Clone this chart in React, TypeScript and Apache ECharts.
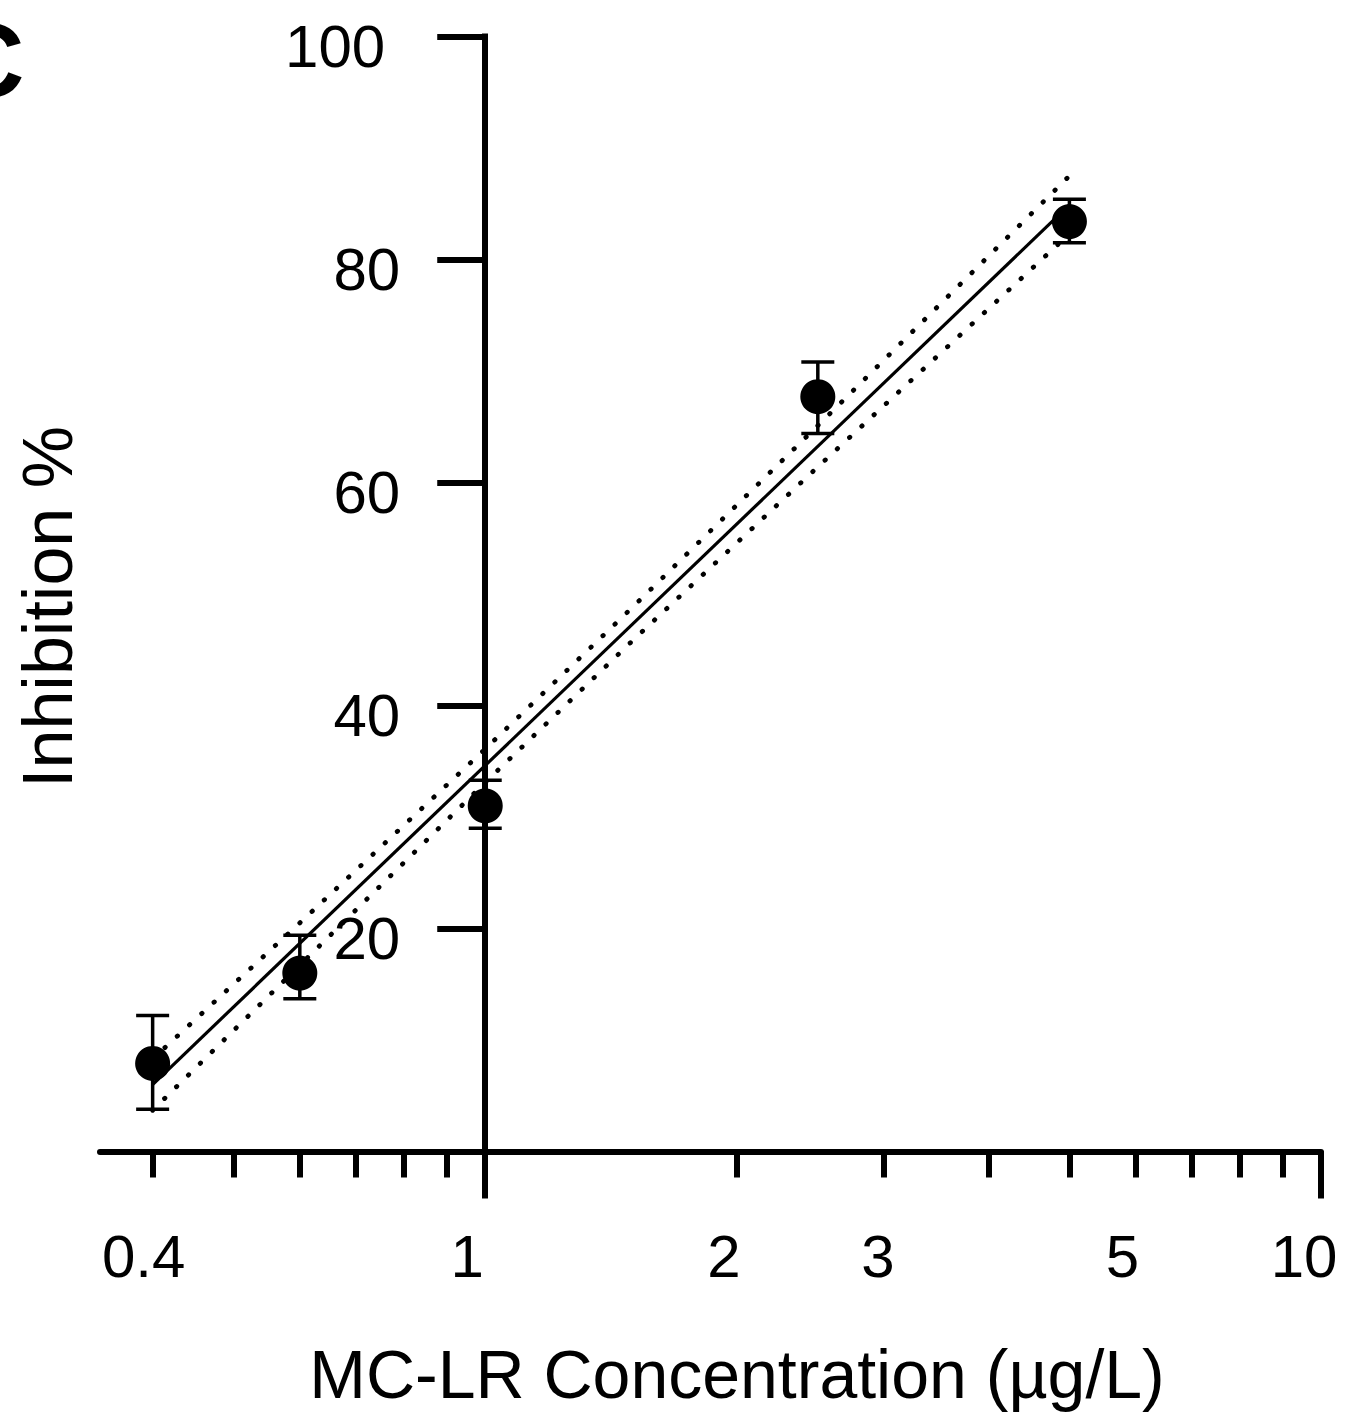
import React, { useEffect, useRef } from 'react';
import * as echarts from 'echarts';

// ---- data ----
const concentrations = [0.4, 0.6, 1, 2.5, 5];
const inhibitionMean = [7.9, 16.0, 31.0, 67.7, 83.4];
const inhibitionLow = [3.8, 13.7, 29.0, 64.4, 81.5];
const inhibitionHigh = [12.2, 19.4, 33.3, 70.8, 85.4];

const fitX = [0.4, 5];
const fitY = [6.0, 84.9];

const bandX = [0.4, 0.6, 1, 1.5, 2.5, 5];
const bandUpper = [8.3, 20.5, 36.1, 48.8, 65.1, 87.5];
const bandLower = [3.7, 16.7, 33.1, 45.8, 61.4, 82.3];

const xAxisMin = 0.346;
const xAxisMax = 10;
const yAxisCrossAt = 1;
const xTickValues = [0.4, 0.5, 0.6, 0.7, 0.8, 0.9, 1, 2, 3, 4, 5, 6, 7, 8, 9, 10];
const xMajorTickValues = [1, 10];
const xTickLabelValues = [0.4, 1, 2, 3, 5, 10];
const xTickLabels = ['0.4', '1', '2', '3', '5', '10'];

const yAxisMin = 0;
const yAxisMax = 100;
const yAxisStep = 20;

const xTitle = 'MC-LR Concentration (µg/L)';
const yTitle = 'Inhibition %';
const panelLetter = 'C';

// ---- style constants ----
const FONT = '"Liberation Sans", Arial, Helvetica, sans-serif';
const xLabelNudge = [-9, -18, -13, -6, 53, -17];
const GRID_LEFT = 100;

const lg = (v: number) => Math.log10(v);

export default function App() {
  const ref = useRef<HTMLDivElement>(null);

  useEffect(() => {
    document.body.style.margin = '0';
    if (!ref.current) return;
    const chart = echarts.init(ref.current, undefined, { renderer: 'svg' });

    const xRich: Record<string, any> = {};
    xLabelNudge.forEach((d, i) => {
      xRich['x' + i] = {
        fontSize: 60,
        fontFamily: FONT,
        color: '#000',
        lineHeight: 60,
        padding: d < 0 ? [0, -2 * d, 0, 0] : [0, 0, 0, 2 * d],
      };
    });

    const yRichBase = { fontSize: 60, fontFamily: FONT, color: '#000', lineHeight: 60 };

    const errData = concentrations.map((c, i) => [lg(c), inhibitionLow[i], inhibitionHigh[i]]);
    const capWidth = 33;

    chart.setOption({
      animation: false,
      backgroundColor: '#ffffff',
      grid: {
        left: GRID_LEFT,
        right: 24,
        top: 36.5,
        bottom: 262.5,
        containLabel: false,
        outerBoundsMode: 'none',
      },
      xAxis: [
        {
          type: 'value',
          min: lg(xAxisMin),
          max: lg(xAxisMax),
          position: 'bottom',
          axisLine: { show: true, onZero: false, lineStyle: { color: '#000', width: 6 } },
          axisTick: {
            show: true,
            length: 26,
            customValues: xTickValues.map(lg),
            lineStyle: { color: '#000', width: 6 },
          },
          axisLabel: {
            show: true,
            margin: 75,
            customValues: xTickLabelValues.map(lg),
            formatter: (v: number) => {
              const i = xTickLabelValues.findIndex((t) => Math.abs(lg(t) - v) < 1e-6);
              if (i < 0) return '';
              return '{x' + i + '|' + xTickLabels[i] + '}';
            },
            rich: xRich,
          },
          splitLine: { show: false },
        },
        {
          type: 'value',
          min: lg(xAxisMin),
          max: lg(xAxisMax),
          position: 'bottom',
          axisLine: { show: false, onZero: false },
          axisTick: {
            show: true,
            length: 47,
            customValues: xMajorTickValues.map(lg),
            lineStyle: { color: '#000', width: 6 },
          },
          axisLabel: { show: false },
          splitLine: { show: false },
        },
      ],
      yAxis: {
        type: 'value',
        min: yAxisMin,
        max: yAxisMax,
        interval: yAxisStep,
        position: 'left',
        offset: 0,
        axisLine: { show: true, onZero: false, lineStyle: { color: '#000', width: 6, cap: 'square' } },
        axisTick: { show: true, length: 48, lineStyle: { color: '#000', width: 6 } },
        axisLabel: {
          show: true,
          margin: 85,
          showMinLabel: false,
          formatter: (v: number) => {
            if (v === 0) return '';
            return v === 100 ? '{w|' + v + '}' : '{n|' + v + '}';
          },
          rich: {
            n: { ...yRichBase, padding: [20, 0, 0, 0] },
            w: { ...yRichBase, padding: [20, 15, 0, 0] },
          },
        },
        splitLine: { show: false },
      },
      series: [
        {
          name: 'upper band',
          type: 'line',
          xAxisIndex: 0,
          data: bandX.map((x, i) => [lg(x), bandUpper[i]]),
          showSymbol: false,
          symbol: 'none',
          smooth: false,
          z: 2,
          lineStyle: { color: '#000', width: 4.8, type: [0.5, 16.2], cap: 'round' },
        },
        {
          name: 'lower band',
          type: 'line',
          xAxisIndex: 0,
          data: bandX.map((x, i) => [lg(x), bandLower[i]]),
          showSymbol: false,
          symbol: 'none',
          smooth: false,
          z: 2,
          lineStyle: { color: '#000', width: 4.8, type: [0.5, 16.2], cap: 'round' },
        },
        {
          name: 'fit',
          type: 'line',
          xAxisIndex: 0,
          data: fitX.map((x, i) => [lg(x), fitY[i]]),
          showSymbol: false,
          symbol: 'none',
          z: 3,
          lineStyle: { color: '#000', width: 3.2 },
        },
        {
          name: 'error',
          type: 'custom',
          xAxisIndex: 0,
          z: 4,
          encode: { x: 0, y: [1, 2] },
          data: errData,
          renderItem: (params: any, api: any) => {
            const x = api.value(0);
            const lo = api.coord([x, api.value(1)]);
            const hi = api.coord([x, api.value(2)]);
            const h = capWidth / 2;
            const style = { stroke: '#000', lineWidth: 3.5 };
            return {
              type: 'group',
              children: [
                { type: 'line', shape: { x1: lo[0], y1: lo[1], x2: hi[0], y2: hi[1] }, style },
                { type: 'line', shape: { x1: hi[0] - h, y1: hi[1], x2: hi[0] + h, y2: hi[1] }, style },
                { type: 'line', shape: { x1: lo[0] - h, y1: lo[1], x2: lo[0] + h, y2: lo[1] }, style },
              ],
            };
          },
        },
        {
          name: 'mean',
          type: 'scatter',
          xAxisIndex: 0,
          z: 5,
          symbol: 'circle',
          symbolSize: 35,
          itemStyle: { color: '#000', opacity: 1 },
          data: concentrations.map((c, i) => [lg(c), inhibitionMean[i]]),
        },
      ],
      graphic: [
        {
          type: 'text',
          x: 24.5,
          y: 60,
          style: {
            text: panelLetter,
            fontSize: 106,
            fontWeight: 'bold',
            fontFamily: FONT,
            fill: '#000',
            align: 'right',
            textAlign: 'right',
            verticalAlign: 'middle',
            textVerticalAlign: 'middle',
          },
        },
        {
          type: 'text',
          x: 737,
          y: 1374,
          style: {
            text: xTitle,
            fontSize: 68,
            fontFamily: FONT,
            fill: '#000',
            align: 'center',
            textAlign: 'center',
            verticalAlign: 'middle',
            textVerticalAlign: 'middle',
          },
        },
        {
          type: 'text',
          x: 48,
          y: 607,
          rotation: Math.PI / 2,
          style: {
            text: yTitle,
            fontSize: 70,
            fontFamily: FONT,
            fill: '#000',
            align: 'center',
            textAlign: 'center',
            verticalAlign: 'middle',
            textVerticalAlign: 'middle',
          },
        },
      ],
    });

    // place the y axis where the x axis reads 1 (log10 = 0), via the library's scale
    const crossPx = chart.convertToPixel({ xAxisIndex: 0 }, lg(yAxisCrossAt)) as number;
    chart.setOption({ yAxis: { offset: GRID_LEFT - crossPx } });

    return () => {
      chart.dispose();
    };
  }, []);

  return (
    <div
      ref={ref}
      style={{ position: 'absolute', left: 0, top: 0, width: 1345, height: 1414, background: '#fff' }}
    />
  );
}
